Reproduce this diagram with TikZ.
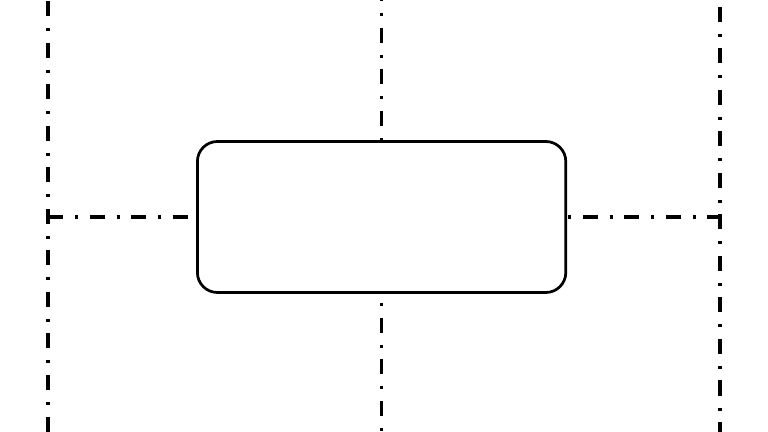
\documentclass[tikz,border=0pt]{standalone}
\usetikzlibrary{positioning}

\tikzset{
	axisline/.style={line width=0.082cm, dash pattern=on 0.375cm off 0.3cm on 0.075cm off 0.2875cm},
	roundbox/.style={draw, fill=white, line width=0.068cm, rounded corners=0.5cm, inner sep=0pt, minimum width=9.21cm, minimum height=3.775cm}
}

\begin{document}
\begin{tikzpicture}
		\newcommand{\leftx}{1.2}
		\newcommand{\midx}{9.54}
		\newcommand{\rightx}{18.0}
		\newcommand{\axisy}{5.375}
		\newcommand{\topy}{10.8} % top of the picture
		
		\useasboundingbox (0,0) rectangle (19.2,\topy);
		
		% end points of the axes
		\coordinate (ltop) at (\leftx,\topy);
		\coordinate (lbot) at (\leftx,0);
		\coordinate (mtop) at (\midx,\topy);
		\coordinate (mbot) at (\midx,0);
		\coordinate (rtop) at (\rightx,\topy);
		\coordinate (rbot) at (\rightx,0);
		\coordinate (laxis) at (\leftx,\axisy);
		\coordinate (raxis) at (\rightx,\axisy);
		
		% box
		\node[roundbox] (box) at (\midx,\axisy) {};
		
		% vertical axes
		\draw[axisline, dash phase=1.0cm] (ltop) -- (lbot);
		\draw[axisline, dash phase=0.8625cm] (rtop) -- (rbot);
		\draw[axisline, dash phase=0.3375cm] (mtop) -- (box.north);
		\draw[axisline, dash phase=0.44cm] (box.south) -- (mbot);
		
		% horizontal axis
		\draw[axisline] (laxis) -- (box.west);
		\draw[axisline, dash phase=0.645cm] (box.east) -- (raxis);
\end{tikzpicture}
\end{document}
